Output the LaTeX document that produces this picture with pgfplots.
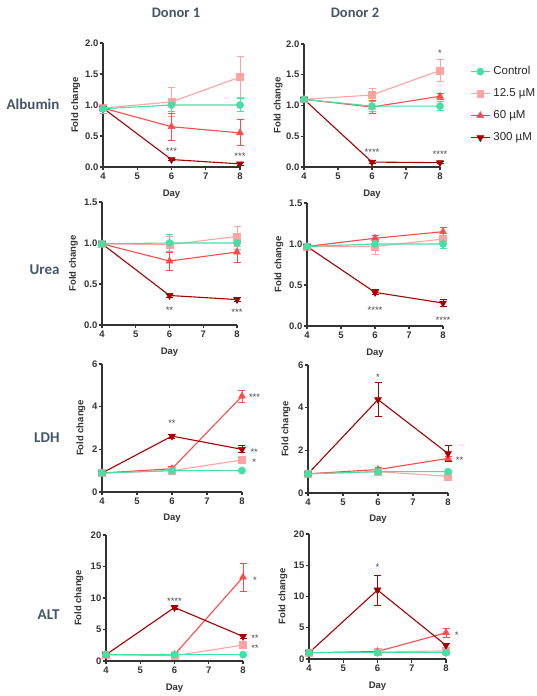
\documentclass[border=0pt]{standalone}
\usepackage{pgfplots}
\pgfplotsset{compat=1.18}
\usepackage{fontspec}
\setmainfont{Liberation Sans}
\newfontfamily\carlito{Carlito}
\definecolor{ctrl}{HTML}{45E0A6}
\definecolor{cA}{HTML}{FFA3A3}
\definecolor{cB}{HTML}{FF4A4A}
\definecolor{cC}{HTML}{A50000}
\definecolor{axc}{HTML}{333333}
\definecolor{lab}{HTML}{44546A}
\definecolor{starc}{HTML}{4A4A4A}
\pgfplotsset{
  prism/.style={
    scale only axis, clip=false,
    axis lines=left, axis line style={-, line width=1.2pt, color=axc},
    every tick/.style={line width=1.1pt, color=axc},
    tick align=outside, major tick length=3.5pt,
    xmin=4, xmax=8, xtick={4,5,6,7,8}, ymin=0,
    minor tick num=0,
    ticklabel style={font=\bfseries\fontsize{9.5}{10}\selectfont, text=axc},
    /pgf/number format/assume math mode=true,
    yticklabel style={inner sep=1pt},
    xticklabel style={inner sep=2.5pt},
    label style={font=\bfseries\fontsize{9.5}{10}\selectfont, text=axc},
    xlabel=Day, ylabel=Fold change,
    anchor=south west,
  },
  dec/.style={yticklabel style={/pgf/number format/.cd, fixed, fixed zerofill, precision=1}},
  ctrlS/.style={color=ctrl, line width=1.1pt, mark=*, mark size=3.6pt, mark options={solid, fill=ctrl, draw=ctrl, line width=0.5pt}},
  aS/.style={color=cA, line width=1.1pt, mark=square*, mark size=3.4pt, mark options={solid, fill=cA, draw=cA, line width=0.5pt}},
  bS/.style={color=cB, line width=1.1pt, mark=triangle*, mark size=4pt, mark options={solid, fill=cB, draw=cB, line width=0.5pt}},
  cS/.style={color=cC, line width=1.1pt, mark=triangle*, mark size=4pt, mark options={solid, rotate=180, fill=cC, draw=cC, line width=0.5pt}},
}
\tikzset{st/.style={font=\fontsize{9.5}{9.5}\selectfont, text=starc, inner sep=0pt, anchor=center, yshift=-2pt}}
\newcommand{\ser}[2]{\addplot[#1,forget plot,error bars/.cd,y dir=both,y explicit,error bar style={line width=0.9pt,solid},error mark options={rotate=90,mark size=3.5pt,line width=0.9pt}] coordinates {#2};}
\begin{document}
\begin{tikzpicture}
\path[use as bounding box] (0pt,0pt) rectangle (537pt,696pt);
% titles
\node[font=\carlito\bfseries\fontsize{14.5}{16}\selectfont, text=lab] at (176pt,683pt) {Donor 1};
\node[font=\carlito\bfseries\fontsize{14.5}{16}\selectfont, text=lab] at (355pt,683pt) {Donor 2};
\node[anchor=east, font=\carlito\bfseries\fontsize{15}{16}\selectfont, text=lab] at (63pt,592pt) {Albumin};
\node[anchor=east, font=\carlito\bfseries\fontsize{15}{16}\selectfont, text=lab] at (63pt,426pt) {Urea};
\node[anchor=east, font=\carlito\bfseries\fontsize{15}{16}\selectfont, text=lab] at (63pt,258pt) {LDH};
\node[anchor=east, font=\carlito\bfseries\fontsize{15}{16}\selectfont, text=lab] at (63pt,81pt) {ALT};

% Row 1 left: Albumin Donor 1
\begin{axis}[prism, dec, at={(103pt,529pt)}, width=137pt, height=124pt, ymax=2, ytick={0,0.5,1,1.5,2},
  xlabel style={at={(axis description cs:0.5,-0.218)}, anchor=center},
  ylabel style={at={(axis description cs:-0.2,0.5)}, anchor=center}]
\ser{aS}{(4,0.95) +- (0,0.03) (6,1.05) +- (0,0.24) (8,1.45) +- (0,0.33)}
\ser{bS}{(4,0.95) +- (0,0.03) (6,0.65) +- (0,0.22) (8,0.55) +- (0,0.21)}
\ser{cS}{(4,0.95) +- (0,0.03) (6,0.12) +- (0,0.02) (8,0.05) +- (0,0.02)}
\ser{ctrlS}{(4,0.94) +- (0,0.07) (6,1.0) +- (0,0.1) (8,1.0) +- (0,0.11)}
\node[st] at (axis cs:6,0.28) {***};
\node[st] at (axis cs:8,0.20) {***};
\end{axis}

% Row 1 right: Albumin Donor 2
\begin{axis}[prism, dec, at={(304pt,529pt)}, width=136pt, height=123pt, ymax=2, ytick={0,0.5,1,1.5,2},
  xlabel style={at={(axis description cs:0.5,-0.2195)}, anchor=center},
  ylabel style={at={(axis description cs:-0.19,0.5)}, anchor=center},
  legend cell align=left,
  legend image code/.code={\draw[mark repeat=2,mark phase=2,#1] plot coordinates {(0pt,0pt)(9.5pt,0pt)(19pt,0pt)};},
  legend style={at={(axis description cs:1.199,0.846)}, anchor=north west, draw=none, fill=none,
    font=\fontsize{11.5}{12}\selectfont, text=black!85, row sep=9pt, column sep=2pt,
    nodes={text height=8.5pt, text depth=2.5pt, inner sep=1pt}}]
\addlegendimage{ctrlS}\addlegendentry{Control}
\addlegendimage{aS}\addlegendentry{12.5 µM}
\addlegendimage{bS}\addlegendentry{60 µM}
\addlegendimage{cS}\addlegendentry{300 µM}
\ser{aS}{(4,1.1) +- (0,0.05) (6,1.17) +- (0,0.1) (8,1.57) +- (0,0.18)}
\ser{bS}{(4,1.1) +- (0,0.05) (6,0.975) +- (0,0.1) (8,1.15) +- (0,0.05)}
\ser{cS}{(4,1.1) +- (0,0.04) (6,0.08) +- (0,0.02) (8,0.07) +- (0,0.02)}
\ser{ctrlS}{(4,1.1) +- (0,0.05) (6,0.99) +- (0,0.08) (8,0.99) +- (0,0.07)}
\node[st] at (axis cs:8,1.88) {*};
\node[st] at (axis cs:6,0.27) {****};
\node[st] at (axis cs:8,0.24) {****};
\end{axis}

% Row 2 left: Urea Donor 1
\begin{axis}[prism, dec, at={(102pt,371pt)}, width=135pt, height=123pt, ymax=1.5, ytick={0,0.5,1,1.5},
  xlabel style={at={(axis description cs:0.5,-0.2195)}, anchor=center},
  ylabel style={at={(axis description cs:-0.211,0.5)}, anchor=center}]
\ser{aS}{(4,0.99) +- (0,0.02) (6,0.98) +- (0,0.1) (8,1.08) +- (0,0.12)}
\ser{bS}{(4,0.99) +- (0,0.02) (6,0.78) +- (0,0.11) (8,0.89) +- (0,0.13)}
\ser{cS}{(4,0.99) +- (0,0.02) (6,0.36) +- (0,0.02) (8,0.31) +- (0,0.02)}
\ser{ctrlS}{(4,0.99) +- (0,0.02) (6,1.0) +- (0,0.1) (8,1.0) +- (0,0.08)}
\node[st] at (axis cs:6,0.21) {**};
\node[st] at (axis cs:8,0.18) {***};
\end{axis}

% Row 2 right: Urea Donor 2
\begin{axis}[prism, dec, at={(307pt,370pt)}, width=136pt, height=123pt, ymax=1.5, ytick={0,0.5,1,1.5},
  xlabel style={at={(axis description cs:0.5,-0.2195)}, anchor=center},
  ylabel style={at={(axis description cs:-0.206,0.5)}, anchor=center}]
\ser{aS}{(4,0.97) +- (0,0.03) (6,0.97) +- (0,0.1) (8,1.06) +- (0,0.05)}
\ser{bS}{(4,0.97) +- (0,0.03) (6,1.07) +- (0,0.04) (8,1.15) +- (0,0.05)}
\ser{cS}{(4,0.97) +- (0,0.02) (6,0.41) +- (0,0.03) (8,0.28) +- (0,0.04)}
\ser{ctrlS}{(4,0.97) +- (0,0.03) (6,1.0) +- (0,0.05) (8,1.0) +- (0,0.06)}
\node[st] at (axis cs:6,0.22) {****};
\node[st] at (axis cs:8,0.10) {****};
\end{axis}

% Row 3 left: LDH Donor 1
\begin{axis}[prism, at={(102pt,204pt)}, width=140pt, height=128pt, ymax=6, ytick={0,2,4,6},
  xlabel style={at={(axis description cs:0.5,-0.203)}, anchor=center},
  ylabel style={at={(axis description cs:-0.15,0.5)}, anchor=center}]
\ser{aS}{(4,0.89) +- (0,0.05) (6,1.0) +- (0,0.12) (8,1.5) +- (0,0.1)}
\ser{bS}{(4,0.89) +- (0,0.05) (6,1.09) +- (0,0.1) (8,4.49) +- (0,0.29)}
\ser{cS}{(4,0.89) +- (0,0.05) (6,2.62) +- (0,0.1) (8,2.0) +- (0,0.16)}
\ser{ctrlS}{(4,0.89) +- (0,0.05) (6,1.0) +- (0,0.05) (8,1.0) +- (0,0.05)}
\node[st] at (axis cs:6,3.3) {**};
\node[st] at (axis cs:8.36,4.55) {***};
\node[st] at (axis cs:8.35,1.95) {**};
\node[st] at (axis cs:8.35,1.5) {*};
\end{axis}

% Row 3 right: LDH Donor 2
\begin{axis}[prism, at={(308pt,203pt)}, width=140pt, height=128pt, ymax=6, ytick={0,2,4,6},
  xlabel style={at={(axis description cs:0.5,-0.203)}, anchor=center},
  ylabel style={at={(axis description cs:-0.157,0.5)}, anchor=center}]
\ser{aS}{(4,0.9) +- (0,0.05) (6,1.0) +- (0,0.08) (8,0.78) +- (0,0.06)}
\ser{bS}{(4,0.9) +- (0,0.05) (6,1.1) +- (0,0.12) (8,1.62) +- (0,0.1)}
\ser{cS}{(4,0.9) +- (0,0.05) (6,4.38) +- (0,0.78) (8,1.85) +- (0,0.37)}
\ser{ctrlS}{(4,0.9) +- (0,0.05) (6,1.0) +- (0,0.05) (8,1.0) +- (0,0.05)}
\node[st] at (axis cs:6,5.53) {*};
\node[st] at (axis cs:8.33,1.63) {**};
\end{axis}

% Row 4 left: ALT Donor 1
\begin{axis}[prism, at={(106pt,35pt)}, width=137pt, height=126pt, ymax=20, ytick={0,5,10,15,20},
  xlabel style={at={(axis description cs:0.5,-0.214)}, anchor=center},
  ylabel style={at={(axis description cs:-0.197,0.5)}, anchor=center}]
\ser{aS}{(4,1.0) +- (0,0.1) (6,0.84) +- (0,0.1) (8,2.53) +- (0,0.2)}
\ser{bS}{(4,1.0) +- (0,0.1) (6,1.0) +- (0,0.1) (8,13.3) +- (0,2.25)}
\ser{cS}{(4,1.0) +- (0,0.1) (6,8.5) +- (0,0.35) (8,3.9) +- (0,0.35)}
\ser{ctrlS}{(4,1.0) +- (0,0.1) (6,1.0) +- (0,0.1) (8,1.0) +- (0,0.1)}
\node[st] at (axis cs:6,9.87) {****};
\node[st] at (axis cs:8.35,13.2) {*};
\node[st] at (axis cs:8.35,3.9) {**};
\node[st] at (axis cs:8.35,2.4) {**};
\end{axis}

% Row 4 right: ALT Donor 2
\begin{axis}[prism, at={(309pt,37pt)}, width=137pt, height=125pt, ymax=20, ytick={0,5,10,15,20},
  xlabel style={at={(axis description cs:0.5,-0.216)}, anchor=center},
  ylabel style={at={(axis description cs:-0.19,0.5)}, anchor=center}]
\ser{aS}{(4,1.0) +- (0,0.3) (6,1.1) +- (0,0.3) (8,1.3) +- (0,0.5)}
\ser{bS}{(4,1.0) +- (0,0.1) (6,1.2) +- (0,0.2) (8,4.2) +- (0,0.7)}
\ser{cS}{(4,1.0) +- (0,0.1) (6,11.04) +- (0,2.4) (8,2.19) +- (0,0.3)}
\ser{ctrlS}{(4,1.0) +- (0,0.1) (6,1.0) +- (0,0.1) (8,1.0) +- (0,0.1)}
\node[st] at (axis cs:6,15.04) {*};
\node[st] at (axis cs:8.31,4.2) {*};
\end{axis}
\end{tikzpicture}
\end{document}
